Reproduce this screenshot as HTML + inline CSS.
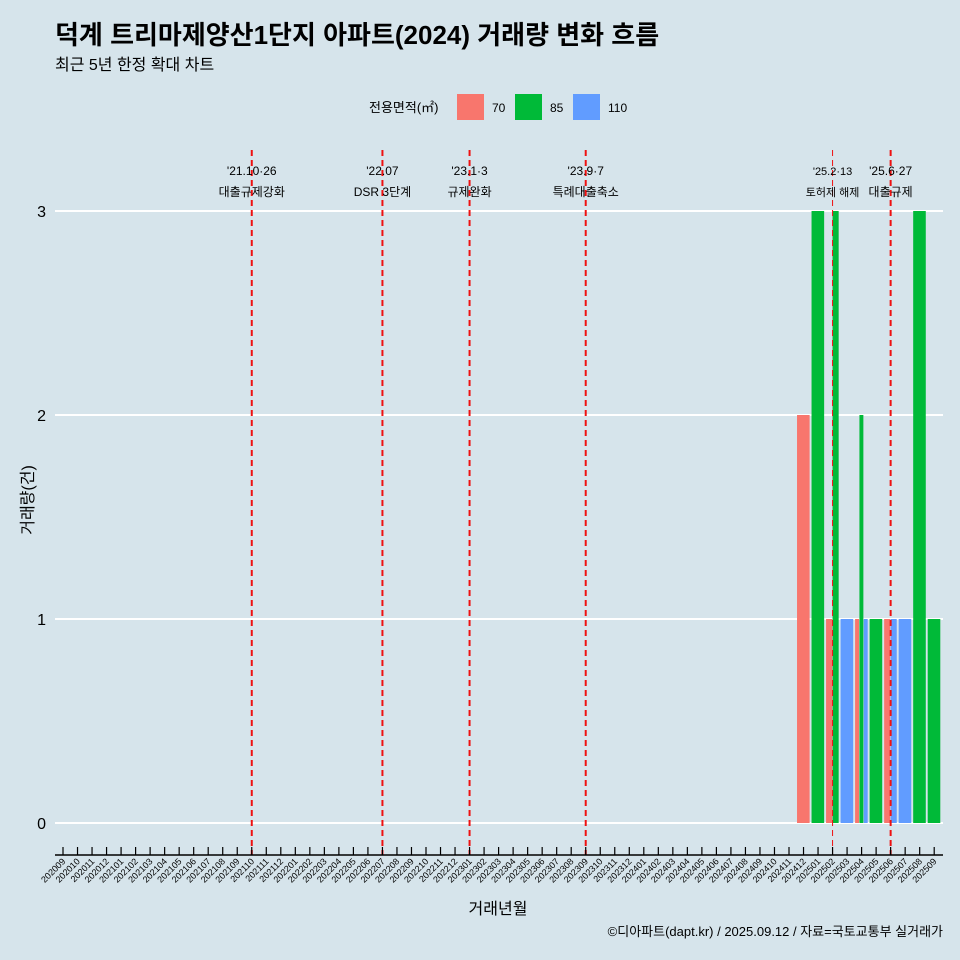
<!DOCTYPE html>
<html><head><meta charset="utf-8"><style>
body{margin:0;background:#d6e4eb;}
svg{display:block;font-family:"Liberation Sans","Noto Sans CJK KR",sans-serif;}
</style></head><body>
<svg id="chart" width="960" height="960" viewBox="0 0 960 960" xmlns="http://www.w3.org/2000/svg">
<rect width="960" height="960" fill="#d6e4eb"/>
<text x="55" y="44" font-size="26" font-weight="bold" fill="#000">덕계 트리마제양산1단지 아파트(2024) 거래량 변화 흐름</text>
<text x="55" y="70" font-size="16" fill="#000">최근 5년 한정 확대 차트</text>
<g>
<text x="369" y="112" font-size="13">전용면적(㎡)</text>
<rect x="457" y="94" width="27" height="26" fill="#F8766D"/>
<text x="492" y="112" font-size="12">70</text>
<rect x="515" y="94" width="27" height="26" fill="#00BA38"/>
<text x="550" y="112" font-size="12">85</text>
<rect x="573" y="94" width="27" height="26" fill="#619CFF"/>
<text x="608" y="112" font-size="12">110</text>
</g>
<g id="plot"></g>
<text transform="translate(33,500) rotate(-90)" text-anchor="middle" font-size="16">거래량(건)</text>
<text x="498" y="914" text-anchor="middle" font-size="16">거래년월</text>
<text x="943" y="936" text-anchor="end" font-size="13">©디아파트(dapt.kr) / 2025.09.12 / 자료=국토교통부 실거래가</text>
</svg>
<script>
const months = [];
for (let y = 2020; y <= 2025; y++) for (let m = 1; m <= 12; m++) {
  const k = y * 100 + m; if (k >= 202009 && k <= 202509) months.push(String(k));
}
const sizes = ["70", "85", "110"];
const colors = {"70": "#F8766D", "85": "#00BA38", "110": "#619CFF"};
const barMonths = ["202412","202501","202502","202502","202503","202504","202504","202504","202505","202506","202506","202507","202508","202509"];
const barSizes  = ["70","85","70","85","110","70","85","110","85","70","110","110","85","85"];
const barValues = [2,3,1,3,1,1,2,1,1,1,1,1,3,1];
const yTicks = [0,1,2,3];
const eventMonths = ["202110","202207","202301","202309","202502","202506"];
const eventDates = ["'21.10·26","'22.07","'23.1·3","'23.9·7","'25.2·13","'25.6·27"];
const eventLabels = ["대출규제강화","DSR 3단계","규제완화","특례대출축소","토허제 해제","대출규제"];

const NS = "http://www.w3.org/2000/svg";
const plot = document.getElementById("plot");
const X0 = 63, STEP = 14.52, Y0 = 823, YU = 204, BAND = 13;
const xScale = m => X0 + months.indexOf(m) * STEP;
const yScale = v => Y0 - v * YU;
function mk(tag, attrs, parent) {
  const el = document.createElementNS(NS, tag);
  for (const k in attrs) el.setAttribute(k, attrs[k]);
  (parent || plot).appendChild(el); return el;
}
yTicks.forEach(t => {
  const g = mk("line", {x1: 55, x2: 943, y1: yScale(t), y2: yScale(t), stroke: "#fff", "stroke-width": 2});
  
  
  const tx = mk("text", {x: 46, y: yScale(t) + 6, "text-anchor": "end", "font-size": 16});
  tx.textContent = t;
  
  
});
// bars: dodge within month
months.forEach(m => {
  const idx = [];
  barMonths.forEach((bm, i) => { if (bm === m) idx.push(i); });
  if (!idx.length) return;
  idx.sort((a, b) => sizes.indexOf(barSizes[a]) - sizes.indexOf(barSizes[b]));
  const w = BAND / idx.length;
  idx.forEach((i, j) => {
    const x = xScale(m) - BAND / 2 + j * w;
    const r = mk("rect", {x: x, y: yScale(barValues[i]), width: w - 0.4, height: barValues[i] * YU, fill: colors[barSizes[i]]});
    
    
  });
});
// event lines
eventMonths.forEach((m, i) => {
  const x = xScale(m);
  const thin = i === 4;
  const l = mk("line", {x1: x, x2: x, y1: 150, y2: 855, stroke: "#ee1111", "stroke-width": thin ? 1 : 2, "stroke-dasharray": "6,4"});
  
  
  const fs = thin ? 11 : 12;
  const t1 = mk("text", {x: x, y: 175, "text-anchor": "middle", "font-size": fs});
  t1.textContent = eventDates[i];
  
  
  const t2 = mk("text", {x: x, y: 196, "text-anchor": "middle", "font-size": fs});
  t2.textContent = eventLabels[i];
  
  
});
// x axis
const ax = mk("line", {x1: 55, x2: 943, y1: 855, y2: 855, stroke: "#000", "stroke-width": 1.5});


months.forEach(m => {
  const x = xScale(m);
  const t = mk("line", {x1: x, x2: x, y1: 847, y2: 855, stroke: "#000", "stroke-width": 1.2});
  
  
  const tx = mk("text", {x: x + 3, y: 862, "text-anchor": "end", "font-size": 9, transform: "rotate(-45 " + (x + 3) + " 862)"});
  tx.textContent = m;
  
  
});
</script>
</body></html>
